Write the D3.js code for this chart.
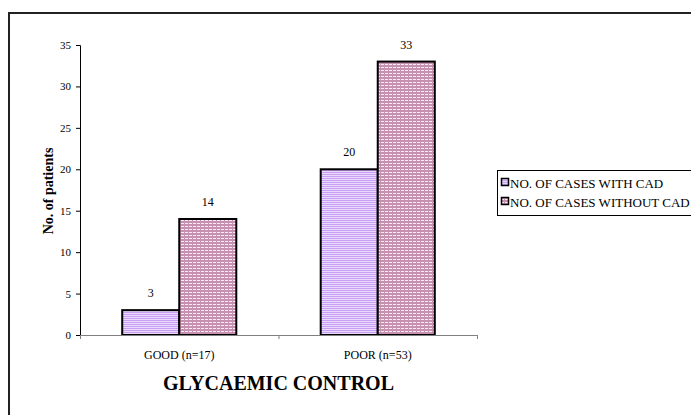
<!DOCTYPE html>
<html><head><meta charset="utf-8">
<script src="https://cdn.jsdelivr.net/npm/d3@7"></script>
<style>body{margin:0;background:#fff}svg{display:block}text{font-family:"Liberation Serif","Times New Roman",serif;fill:#000}</style>
</head><body><svg id="c" width="691" height="415"></svg>
<script>
const categories = ["GOOD (n=17)", "POOR (n=53)"];
const seriesNames = ["NO. OF CASES WITH CAD", "NO. OF CASES WITHOUT CAD"];
const withCAD = [3, 20];
const withoutCAD = [14, 33];
const yTicks = [0, 5, 10, 15, 20, 25, 30, 35];

const svg = d3.select("#c");
const defs = svg.append("defs");
const p1 = defs.append("pattern").attr("id","p1").attr("width",4).attr("height",2).attr("patternUnits","userSpaceOnUse");
p1.append("rect").attr("width",4).attr("height",2).attr("fill","#ead8ff");
p1.append("rect").attr("width",4).attr("height",1).attr("fill","#c8a0f2");
const p2 = defs.append("pattern").attr("id","p2").attr("width",4).attr("height",3).attr("patternUnits","userSpaceOnUse");
p2.append("rect").attr("width",4).attr("height",3).attr("fill","#c690b0");
p2.append("rect").attr("x",1).attr("y",1).attr("width",3).attr("height",1).attr("fill","#f6ecf2");

// outer border
svg.append("rect").attr("x",9).attr("y",13).attr("width",700).attr("height",420)
  .attr("fill","none").attr("stroke","#222").attr("stroke-width",2);

const x0 = d3.scaleBand().domain(categories).range([80, 477]);
const x1 = d3.scaleBand().domain(seriesNames).range([0, x0.bandwidth()]).paddingOuter(0.74).paddingInner(0);
const y = d3.scaleLinear().domain([0, 35]).range([335, 45]);

const series = [withCAD, withoutCAD];
const fills = ["url(#p1)", "url(#p2)"];

series.forEach((vals, si) => {
  svg.append("g").selectAll("rect").data(vals).join("rect")
    .attr("x", (d,i) => x0(categories[i]) + x1(seriesNames[si]))
    .attr("y", d => y(d))
    .attr("width", x1.bandwidth())
    .attr("height", d => y(0) - y(d))
    .attr("fill", fills[si]).attr("stroke","#000").attr("stroke-width",2);
  svg.append("g").selectAll("text").data(vals).join("text")
    .attr("x", (d,i) => x0(categories[i]) + x1(seriesNames[si]) + x1.bandwidth()/2)
    .attr("y", d => y(d) - 13)
    .attr("text-anchor","middle").style("font-size","12px").text(d => d);
});

// y axis
const ya = svg.append("g").attr("transform","translate(80,0)")
  .call(d3.axisLeft(y).tickValues(yTicks).tickSize(4).tickPadding(5));
ya.select(".domain").attr("stroke","#000");
ya.selectAll("line").attr("stroke","#000");
ya.selectAll("text").style("font-family","Liberation Serif").style("font-size","11px");

// x axis
const xa = svg.append("g").attr("transform","translate(0,335)");
xa.append("line").attr("x1",80).attr("x2",477).attr("y1",0.5).attr("y2",0.5).attr("stroke","#808080");
xa.selectAll("line.t").data([80, 477].concat(categories.slice(1).map(c => x0(c)))).join("line").attr("class","t")
  .attr("x1", d=>d+0.5).attr("x2", d=>d+0.5).attr("y1",0).attr("y2",4).attr("stroke","#808080");
xa.selectAll("text").data(categories).join("text")
  .attr("x", d => x0(d) + x0.bandwidth()/2).attr("y", 24)
  .attr("text-anchor","middle").style("font-size","12px").text(d => d);

// axis titles
svg.append("text").attr("transform","translate(53,191) rotate(-90)")
  .attr("text-anchor","middle").style("font-size","14px").style("font-weight","bold").text("No. of patients");
svg.append("text").attr("x",278.5).attr("y",390).attr("text-anchor","middle")
  .style("font-size","20px").style("font-weight","bold").text("GLYCAEMIC CONTROL");

// legend
const lg = svg.append("g");
lg.append("rect").attr("x",497.5).attr("y",170.5).attr("width",200).attr("height",45)
  .attr("fill","#fff").attr("stroke","#000");
seriesNames.forEach((n, i) => {
  const yy = 183 + i*19;
  lg.append("rect").attr("x",501.5).attr("y",yy-4.5).attr("width",7).attr("height",7)
    .attr("fill", fills[i]).attr("stroke","#000").attr("stroke-width",1.5);
  lg.append("text").attr("x",510).attr("y",yy+4.5).style("font-size","13px").text(n);
});
</script></body></html>
